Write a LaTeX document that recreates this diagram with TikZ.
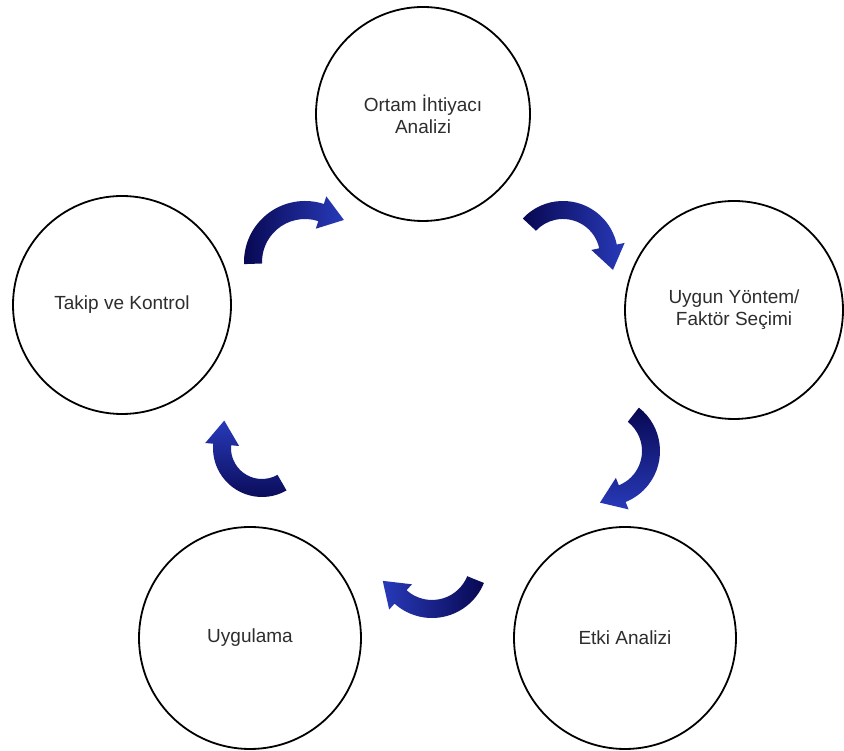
\documentclass[tikz,border=0pt]{standalone}
\usepackage{fontspec}
\setmainfont{Liberation Sans}
\usetikzlibrary{calc}
\definecolor{navyD}{RGB}{8,8,82}
\definecolor{blueL}{RGB}{40,58,185}
\definecolor{txtgray}{RGB}{45,45,45}
% #1 radius, #2 start angle, #3 end angle (clockwise travel), #4 shading options
\newcommand{\bluearrow}[4]{%
  \shade[#4] ({#2}:{#1+9}) arc[start angle={#2}, end angle={#3}, radius={#1+9}]
    -- ({#3}:{#1+17}) -- ($({#3}:{#1})+({#3-90}:24)$) -- ({#3}:{#1-17})
    -- ({#3}:{#1-9}) arc[start angle={#3}, end angle={#2}, radius={#1-9}] -- cycle;}
\begin{document}
\begin{tikzpicture}[x=1pt,y=1pt,
  stage/.style={circle, draw=black, line width=1.8pt, inner sep=0pt,
    align=center, text=txtgray, font=\fontsize{19}{22}\selectfont}]
\useasboundingbox (0,0) rectangle (844,751);
\fill[white] (0,0) rectangle (844,751);
% stages
\node[stage, minimum size=214pt] (A) at (423,637) {Ortam İhtiyacı\\Analizi};
\node[stage, minimum size=218pt] (B) at (734,441) {Uygun Yöntem/\\Faktör Seçimi};
\node[stage, minimum size=222pt] (C) at (625,113) {Etki Analizi};
\node[stage, minimum size=222pt] (D) at (250,113) {Uygulama};
\node[stage, minimum size=218pt] (E) at (122,446) {Takip ve Kontrol};
% curved arrows
\coordinate (ar1) at (305,489);
\coordinate (ar2) at (563,495);
\coordinate (ar3) at (605,300);
\coordinate (ar4) at (432,189);
\coordinate (ar5) at (262,303);
\begin{scope}[shift={(ar1)}]
  \bluearrow{52}{182}{72}{left color=navyD, right color=blueL}
\end{scope}
\begin{scope}[shift={(ar2)}]
  \bluearrow{46}{137}{12}{left color=navyD, right color=blueL}
\end{scope}
\begin{scope}[shift={(ar3)}]
  \bluearrow{46}{52}{-68}{top color=navyD, bottom color=blueL}
\end{scope}
\begin{scope}[shift={(ar4)}]
  \bluearrow{47}{-22}{-132}{left color=blueL, right color=navyD}
\end{scope}
\begin{scope}[shift={(ar5)}]
  \bluearrow{40}{-60}{-185}{top color=blueL, bottom color=navyD}
\end{scope}
\end{tikzpicture}
\end{document}
